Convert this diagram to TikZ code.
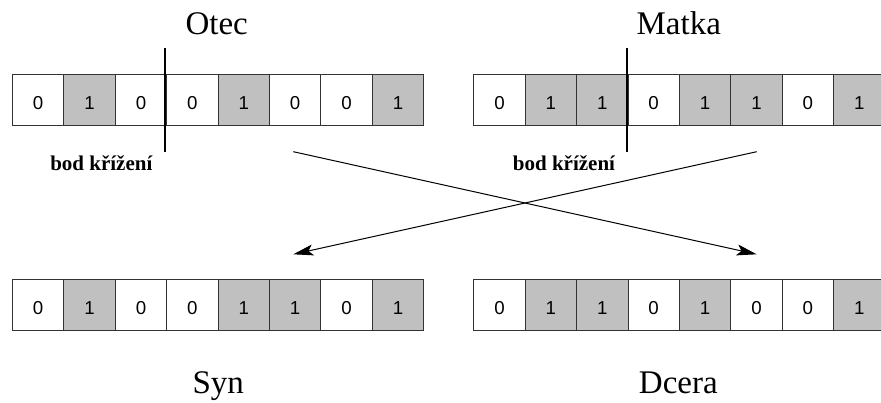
\documentclass[tikz,border=0pt]{standalone}
\usepackage{fontspec}
\setmainfont{Liberation Serif}
\newfontfamily\arialf{Liberation Sans}
\usetikzlibrary{arrows.meta}
\definecolor{cellgray}{HTML}{C0C0C0}
\begin{document}
\begin{tikzpicture}[x=1pt,y=-1pt,
  cell/.style={draw=black!80, line width=0.9pt, minimum width=51.4pt, minimum height=51pt,
    inner sep=0pt, anchor=north west, text height=19.4pt, text depth=0pt,
    font=\arialf\fontsize{18.7}{18.7}\selectfont},
  bit0/.style={cell, fill=white},
  bit1/.style={cell, fill=cellgray},
  title/.style={anchor=base, inner sep=0pt, font=\fontsize{33}{33}\selectfont},
  cplabel/.style={anchor=base, inner sep=0pt, font=\bfseries\fontsize{21}{21}\selectfont},
  cpline/.style={line width=2pt, black},
  cross/.style={line width=1pt, black, -{Stealth[length=20pt,width=11pt,inset=4.5pt]}}]
\useasboundingbox (0,0) rectangle (881,403);
\clip (0,0) rectangle (881,403);
\fill[white] (0,0) rectangle (881,403);
% parent and child chromosomes
\foreach \b [count=\i] in {0,1,0,0,1,0,0,1}
  \node[bit\b] (f\i) at ({12+(\i-1)*51.4},74) {\b};
\foreach \b [count=\i] in {0,1,1,0,1,1,0,1}
  \node[bit\b] (m\i) at ({473.3+(\i-1)*51.4},74) {\b};
\foreach \b [count=\i] in {0,1,0,0,1,1,0,1}
  \node[bit\b] (s\i) at ({12+(\i-1)*51.4},279) {\b};
\foreach \b [count=\i] in {0,1,1,0,1,0,0,1}
  \node[bit\b] (d\i) at ({473.3+(\i-1)*51.4},279) {\b};
% titles
\node[title] (otec) at (216.7,35) {Otec};
\node[title] (matka) at (678.8,35) {Matka};
\node[title] (syn) at (218.3,393) {Syn};
\node[title] (dcera) at (678.3,393) {Dcera};
% crossover points
\coordinate (fcpT) at (165.3,48.5);
\coordinate (fcpB) at (165.3,152);
\coordinate (mcpT) at (627.3,48.5);
\coordinate (mcpB) at (627.3,152);
\draw[cpline] (fcpT) -- (fcpB);
\draw[cpline] (mcpT) -- (mcpB);
\node[cplabel] (bkf) at (101.3,170.7) {bod křížení};
\node[cplabel] (bkm) at (564,170.7) {bod křížení};
% crossing arrows
\coordinate (aS) at (293.3,151.7);
\coordinate (aE) at (756.7,254.3);
\coordinate (bS) at (756.7,151.7);
\coordinate (bE) at (293.3,254.3);
\draw[cross] (aS) -- (aE);
\draw[cross] (bS) -- (bE);
\end{tikzpicture}
\end{document}
